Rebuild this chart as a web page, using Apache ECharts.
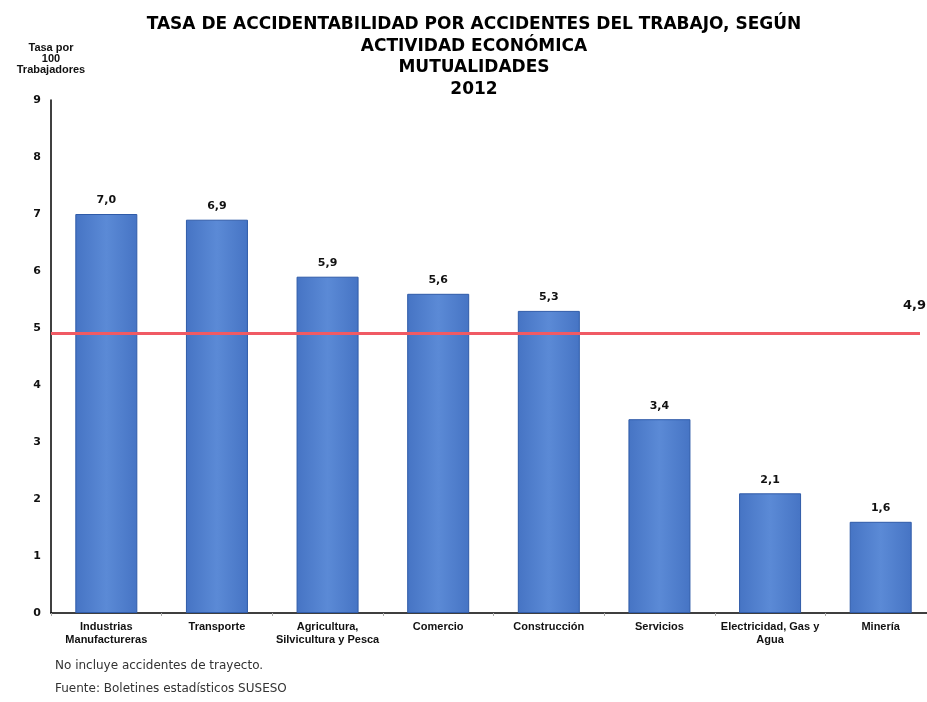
<!DOCTYPE html>
<html>
<head>
<meta charset="utf-8">
<script src="https://cdn.jsdelivr.net/npm/echarts@6/dist/echarts.min.js"></script>
<style>
  html, body { margin: 0; padding: 0; background: #fff; }
  #chart { width: 927px; height: 702px; }
</style>
</head>
<body>
<div id="chart"></div>
<script>
let categories = ['Industrias\nManufactureras', 'Transporte', 'Agricultura,\nSilvicultura y Pesca', 'Comercio',
    'Construcción', 'Servicios', 'Electricidad, Gas y\nAgua', 'Minería'];
let rates = [7.0, 6.9, 5.9, 5.6, 5.3, 3.4, 2.1, 1.6];
let average = 4.9;
let yTicks = [0, 1, 2, 3, 4, 5, 6, 7, 8, 9];

let chart = echarts.init(document.getElementById('chart'));

function comma(v) {
    return v.toFixed(1).replace('.', ',');
}

let option = {
    animation: false,
    backgroundColor: '#fff',
    title: {
        text: 'TASA DE ACCIDENTABILIDAD POR ACCIDENTES DEL TRABAJO, SEGÚN\nACTIVIDAD ECONÓMICA\nMUTUALIDADES\n2012',
        left: 469,
        textAlign: 'center',
        top: 9,
        textStyle: {
            fontFamily: 'DejaVu Sans',
            fontWeight: 'bold',
            fontSize: 17,
            lineHeight: 21.5,
            color: '#000'
        }
    },
    graphic: [
        {
            type: 'text', left: 55, top: 660,
            style: { text: 'No incluye accidentes de trayecto.', font: '12px "DejaVu Sans"', fill: '#333' }
        },
        {
            type: 'text', left: 55, top: 683,
            style: { text: 'Fuente: Boletines estadísticos SUSESO', font: '12px "DejaVu Sans"', fill: '#333' }
        }
    ],
    // the axis runs a little past the right edge, as in the original
    grid: { left: 51, right: -9, top: 100, bottom: 89, outerBoundsMode: 'none' },
    xAxis: {
        type: 'category',
        data: categories,
        axisLine: { lineStyle: { color: '#000', width: 1.5 } },
        axisTick: { show: true, length: 3, lineStyle: { color: '#aaa' } },
        axisLabel: {
            interval: 0,
            margin: 7,
            fontFamily: 'Liberation Sans',
            fontWeight: 'bold',
            fontSize: 11,
            lineHeight: 13,
            color: '#111'
        }
    },
    yAxis: {
        type: 'value',
        min: yTicks[0],
        max: yTicks[yTicks.length - 1],
        interval: 1,
        name: 'Tasa por\n100\nTrabajadores',
        nameLocation: 'end',
        nameGap: 25,
        nameTextStyle: {
            fontFamily: 'Liberation Sans',
            fontWeight: 'bold',
            fontSize: 11,
            lineHeight: 11,
            color: '#111',
            align: 'center'
        },
        axisLine: { show: true, lineStyle: { color: '#000', width: 1.5 } },
        axisTick: { show: false },
        splitLine: { show: false },
        axisLabel: {
            margin: 10,
            fontFamily: 'DejaVu Sans',
            fontWeight: 'bold',
            fontSize: 11,
            color: '#111'
        }
    },
    series: [
        {
            type: 'bar',
            data: rates,
            barWidth: 62,
            itemStyle: {
                color: new echarts.graphic.LinearGradient(0, 0, 1, 0, [
                    { offset: 0, color: '#4674c4' },
                    { offset: 0.5, color: '#5b8ad6' },
                    { offset: 1, color: '#4674c4' }
                ]),
                borderColor: '#2f5ba8',
                borderWidth: 1
            },
            label: {
                show: true,
                position: 'top',
                distance: 8,
                formatter: p => comma(p.value),
                fontFamily: 'DejaVu Sans',
                fontWeight: 'bold',
                fontSize: 11,
                color: '#111'
            },
            markLine: {
                symbol: 'none',
                silent: true,
                lineStyle: { color: '#f05a64', width: 3, type: 'solid' },
                label: {
                    show: true,
                    position: 'insideEndTop',
                    formatter: () => comma(average),
                    distance: [-6, 22],
                    fontFamily: 'DejaVu Sans',
                    fontWeight: 'bold',
                    fontSize: 13,
                    color: '#111'
                },
                data: [[{ x: 51, yAxis: average }, { x: 920, yAxis: average }]]
            }
        }
    ]
};

chart.setOption(option);
</script>
</body>
</html>
